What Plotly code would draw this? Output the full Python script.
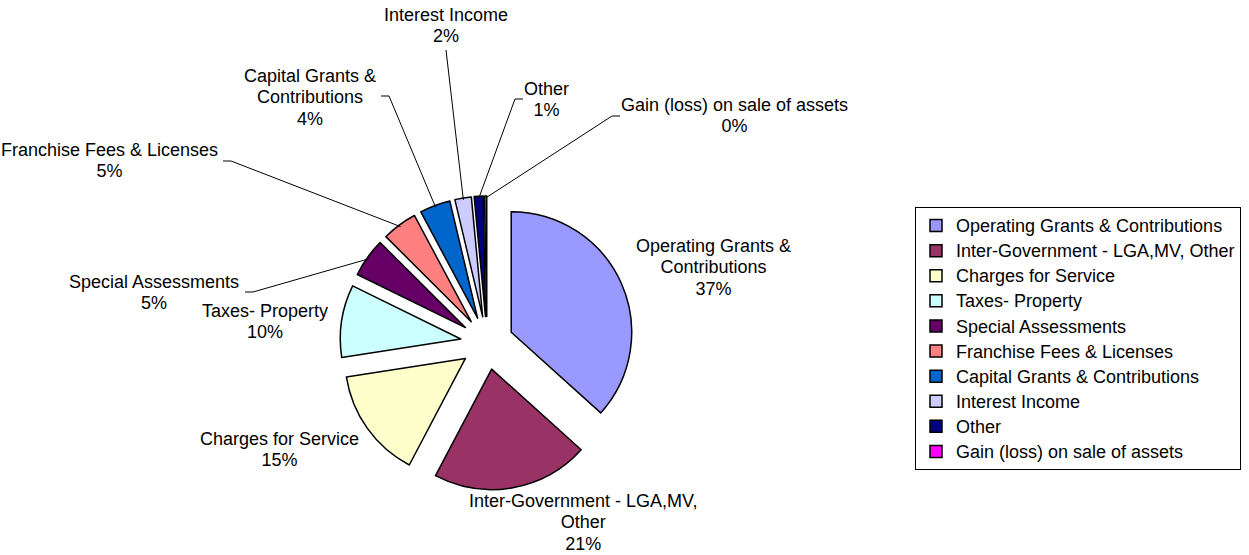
import math
import plotly.graph_objects as go

# ---- data ----
categories = [
    "Operating Grants & Contributions",
    "Inter-Government - LGA,MV, Other",
    "Charges for Service",
    "Taxes- Property",
    "Special Assessments",
    "Franchise Fees & Licenses",
    "Capital Grants & Contributions",
    "Interest Income",
    "Other",
    "Gain (loss) on sale of assets",
]
chart_label_lines = [
    ["Operating Grants &", "Contributions"],
    ["Inter-Government - LGA,MV,", "Other"],
    ["Charges for Service"],
    ["Taxes- Property"],
    ["Special Assessments"],
    ["Franchise Fees & Licenses"],
    ["Capital Grants &", "Contributions"],
    ["Interest Income"],
    ["Other"],
    ["Gain (loss) on sale of assets"],
]
values = [36.6, 21.0, 14.8, 9.7, 5.2, 4.7, 4.1, 2.2, 1.2, 0.3]

# ---- style / layout ----
colors = ["#9999FF", "#993366", "#FFFFCC", "#CCFFFF", "#660066",
          "#FF8080", "#0066CC", "#CCCCFF", "#000080", "#FF00FF"]
W, H = 1249, 555
PIE_CX, PIE_CY, PIE_HALF = 487, 343, 147   # px
PULL = 0.22
FONT = "Liberation Sans, Arial, sans-serif"
TXT_PX = 18        # drawn glyph size
LBL_FS = 16.5      # controls label line spacing
LEG_FS = 17        # controls legend row spacing
# label centre positions (px)
label_pos = [(713, 267), (583, 522), (279, 449), (265, 321), (154, 292),
             (109, 161), (310, 97), (446, 26), (546, 100), (734, 115)]
# leader line attach point (px) and tick direction (None = no leader)
leader_attach = [None, None, None, None, (245, 292, 8), (223, 161, 8),
                 (381, 96, 8), (446, 50, 0), (523, 99, -8), (620, 116, -8)]

dom_x = [(PIE_CX - PIE_HALF) / W, (PIE_CX + PIE_HALF) / W]
dom_y = [1 - (PIE_CY + PIE_HALF) / H, 1 - (PIE_CY - PIE_HALF) / H]


def span(s):
    return f'<span style="font-size:{TXT_PX}px">{s}</span>'


legend_names = [span(c) for c in categories]

fig = go.Figure(go.Pie(
    labels=legend_names, values=values, sort=False, direction="clockwise",
    rotation=0, pull=[PULL] * len(values),
    marker=dict(colors=colors, line=dict(color="black", width=1.5)),
    textinfo="none", hoverinfo="skip", domain=dict(x=dom_x, y=dom_y),
))

total = sum(values)
r_out = PIE_HALF  # radius + pull offset
annotations, shapes = [], []
cum = 0.0
for i, v in enumerate(values):
    mid = (cum + v / 2) / total * 2 * math.pi
    cum += v
    pct = f"{round(v / total * 100)}%"
    text = "<br>".join(span(s) for s in chart_label_lines[i] + [pct])
    lx, ly = label_pos[i]
    annotations.append(dict(
        x=lx / W, y=1 - ly / H, xref="paper", yref="paper",
        xanchor="center", yanchor="middle",
        text=text, showarrow=False, align="center",
        font=dict(family=FONT, size=LBL_FS, color="black")))
    if leader_attach[i] is not None:
        axp, ayp, tick = leader_attach[i]
        hx = PIE_CX + (r_out - 2) * math.sin(mid)
        hy = PIE_CY - (r_out - 2) * math.cos(mid)
        pts = [(axp, ayp), (axp + tick, ayp), (hx, hy)]
        path = "M " + " L ".join(f"{px / W},{1 - py / H}" for px, py in pts)
        shapes.append(dict(type="path", xref="paper", yref="paper",
                           path=path, line=dict(color="black", width=1)))

fig.update_layout(
    width=W, height=H, autosize=False,
    margin=dict(l=0, r=0, t=0, b=0),
    paper_bgcolor="white", plot_bgcolor="white",
    annotations=annotations, shapes=shapes,
    showlegend=True,
    legend=dict(x=915 / W, y=1 - 207 / H, xanchor="left", yanchor="top",
                bordercolor="black", borderwidth=1, bgcolor="white",
                font=dict(family=FONT, size=LEG_FS, color="black"),
                traceorder="normal"),
)
fig.write_html("out.html")
